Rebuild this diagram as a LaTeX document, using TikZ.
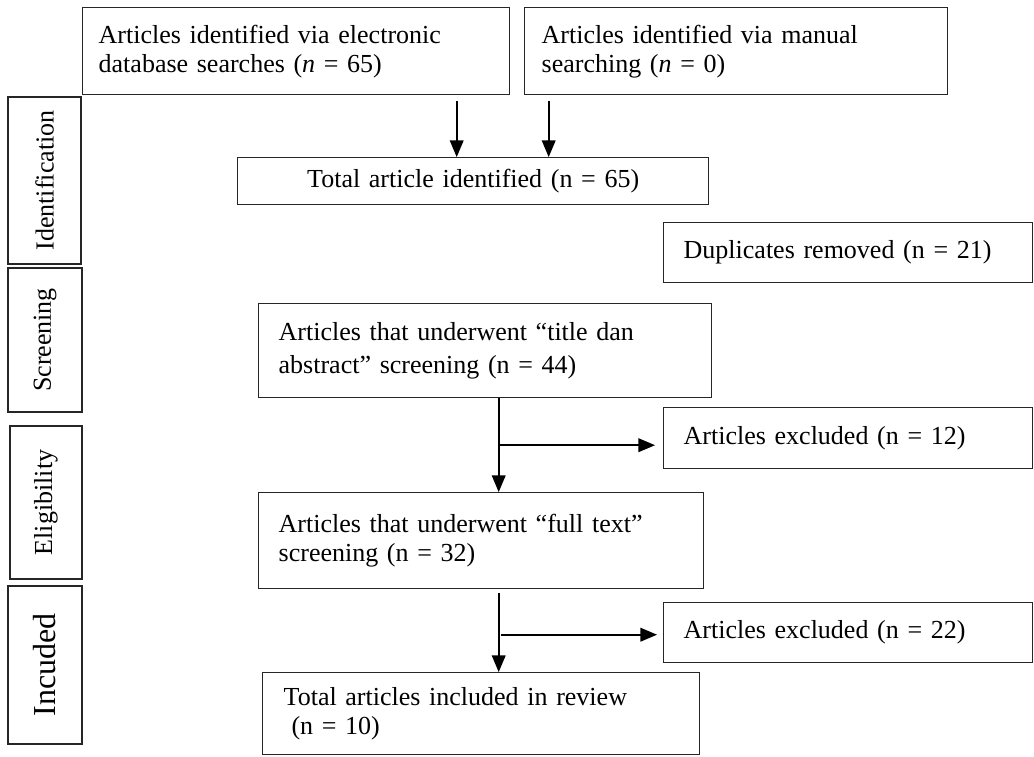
\documentclass[tikz,border=0pt]{standalone}
\usepackage{fontspec}
\setmainfont{Liberation Serif}
\usetikzlibrary{arrows,calc}

\begin{document}
\begin{tikzpicture}[x=0.5pt,y=-0.5pt,>=triangle 45]
  \tikzstyle{box}=[rectangle,draw=black!85,line width=0.7pt,anchor=north west,
                   inner xsep=10pt,align=left,font=\fontsize{13}{14.5}\selectfont]
  \tikzstyle{stage}=[rectangle,draw=black!85,line width=0.7pt,rotate=90,
                     inner sep=0pt,font=\fontsize{13}{14.5}\selectfont]
  \tikzstyle{flow}=[->,line width=0.9pt]
  \useasboundingbox (0,0) rectangle (1034,756);

  % sources
  \node [box,inner xsep=8pt,text width=197.5pt,minimum height=43.5pt] (elec) at (82,7)
    {Articles identified via electronic\\database searches (\textit{n} = 65)};
  \node [box,inner xsep=8.5pt,text width=194.5pt,minimum height=43.5pt] (manual) at (524,7)
    {Articles identified via manual\\searching (\textit{n} = 0)};
  \node [box,align=center,text width=215.5pt,minimum height=23.5pt] (total) at (237,157)
    {Total article identified (n = 65)};
  \node [box,text width=164.5pt,minimum height=30pt] (dupl) at (663,222)
    {Duplicates removed (n = 21)};

  % screening and eligibility
  \node [box,text width=206.5pt,minimum height=47pt] (title) at (258,303)
    {Articles that underwent “title dan\\[2pt]abstract” screening (n = 44)};
  \node [box,text width=164.5pt,minimum height=30.5pt] (excl1) at (663,407)
    {Articles excluded (n = 12)};
  \node [box,text width=202.5pt,minimum height=48pt] (full) at (258,492)
    {Articles that underwent “full text”\\screening (n = 32)};
  \node [box,text width=164.5pt,minimum height=30pt] (excl2) at (663,602)
    {Articles excluded (n = 22)};
  \node [box,inner xsep=10.5pt,text width=197.5pt,minimum height=41pt] (incl) at (262,672)
    {Total articles included in review\\\hspace{0.3em}(n = 10)};

  % stage labels
  \node [stage,minimum width=83.5pt,minimum height=36.5pt] (ident) at (44.5,180.5) {Identification};
  \node [stage,minimum width=72pt,minimum height=37pt] (screen) at (45,340) {Screening};
  \node [stage,minimum width=76.5pt,minimum height=36pt] (elig) at (46,502.5) {Eligibility};
  \node [stage,minimum width=79pt,minimum height=37pt,font=\fontsize{16}{19}\selectfont]
    (inc) at (45,665) {Incuded};

  % arrows
  \coordinate (a1) at ([xshift=80.25pt,yshift=-3pt]elec.south);
  \coordinate (a2) at ([xshift=-93.75pt,yshift=-3pt]manual.south);
  \draw [flow] (a1) -- (a1 |- total.north);
  \draw [flow] (a2) -- (a2 |- total.north);

  \coordinate (e1) at ([xshift=6.75pt]title.south);
  \coordinate (b1) at ($(e1)!0.5!(e1 |- full.north)$);
  \draw [flow] (e1) -- (e1 |- full.north);
  \draw [flow,shorten >=4pt] ([xshift=0.5pt]b1) -- (b1 -| excl1.west);

  \coordinate (f1) at ([xshift=8.75pt,yshift=-2pt]full.south);
  \coordinate (b2) at ($(f1)!0.5!(f1 |- incl.north)$);
  \draw [flow] (f1) -- (f1 |- incl.north);
  \draw [flow,shorten >=3pt] ([xshift=1pt,yshift=-1pt]b2) -- ([yshift=-1pt]b2 -| excl2.west);
\end{tikzpicture}
\end{document}
